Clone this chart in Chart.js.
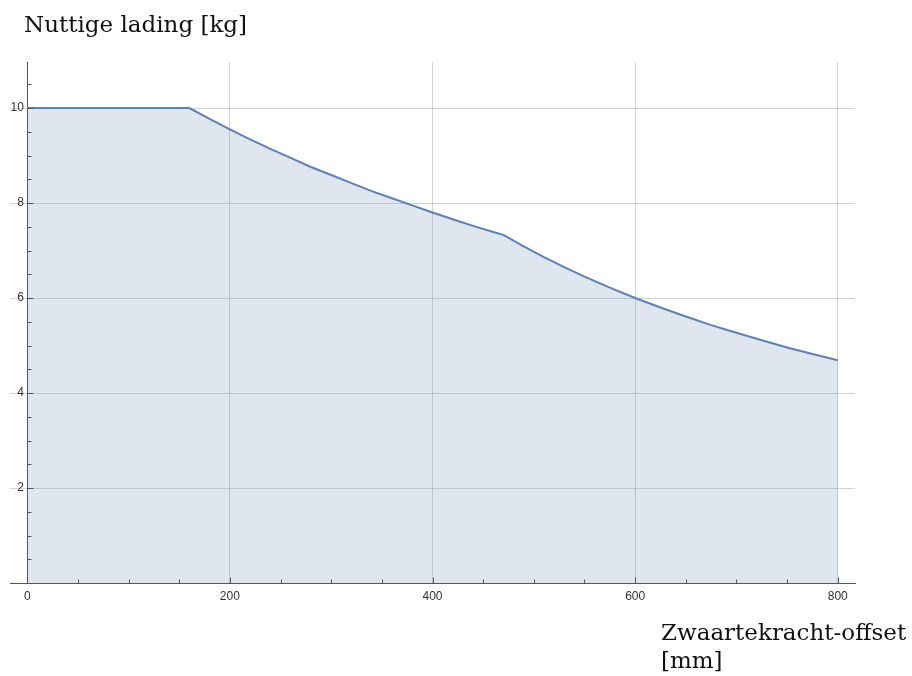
<!DOCTYPE html>
<html>
<head>
<meta charset="utf-8">
<script src="https://cdn.jsdelivr.net/npm/chart.js@4.4.1/dist/chart.umd.min.js"></script>
<style>
  html, body { margin: 0; padding: 0; background: #fff; }
</style>
</head>
<body>
<canvas id="chart" width="912" height="676"></canvas>
<script>
// offset in mm and payload in kg
const offsets = [0, 160, 180, 200, 220, 240, 260, 280, 300, 320, 340, 360, 380, 400, 420, 440, 460, 470,
  490, 510, 530, 550, 575, 600, 625, 650, 675, 700, 725, 750, 775, 800];
const payload = [10, 10, 9.77, 9.55, 9.34, 9.14, 8.95, 8.76, 8.59, 8.42, 8.25, 8.10, 7.95, 7.80, 7.66, 7.52, 7.39, 7.33,
  7.09, 6.86, 6.65, 6.45, 6.22, 6.00, 5.80, 5.61, 5.43, 5.27, 5.11, 4.96, 4.82, 4.69];

const xTicks = [0, 200, 400, 600, 800];
const yTicks = [2, 4, 6, 8, 10];
const yTitle = 'Nuttige lading [kg]';
const xTitle = ['Zwaartekracht-offset', '[mm]'];

const axisColor = '#555';
const gridColor = 'rgba(0,0,0,0.17)';
const tickFont = { family: 'Liberation Sans, Arial, sans-serif', size: 12 };
const titleFont = '23px "DejaVu Serif", serif';

// inner tick marks (Mathematica style) + axis titles
const axisDecor = {
  id: 'axisDecor',
  afterDraw(chart) {
    const { ctx, scales: { x, y } } = chart;
    const x0 = Math.round(x.getPixelForValue(0)) + 0.5;
    const y0 = Math.round(y.getPixelForValue(0)) + 0.5;
    ctx.save();
    ctx.strokeStyle = axisColor;
    ctx.lineWidth = 1;
    ctx.beginPath();
    for (let v = 0; v <= 800; v += 50) {
      const px = Math.round(x.getPixelForValue(v)) + 0.5;
      const len = v % 200 === 0 ? 6 : 4;
      ctx.moveTo(px, y0);
      ctx.lineTo(px, y0 - len);
    }
    for (let v = 0.5; v <= 10.5; v += 0.5) {
      const py = Math.round(y.getPixelForValue(v)) + 0.5;
      const len = v % 2 === 0 ? 6 : 4;
      ctx.moveTo(x0, py);
      ctx.lineTo(x0 + len, py);
    }
    ctx.stroke();

    ctx.fillStyle = '#111';
    ctx.font = titleFont;
    ctx.textAlign = 'left';
    ctx.textBaseline = 'alphabetic';
    ctx.fillText(yTitle, 24, 32);
    ctx.fillText(xTitle[0], 661, 640);
    ctx.fillText(xTitle[1], 661, 668);
    ctx.restore();
  }
};

new Chart(document.getElementById('chart'), {
  type: 'line',
  data: {
    datasets: [{
      data: offsets.map((v, i) => ({ x: v, y: payload[i] })),
      borderColor: '#5e81b5',
      borderWidth: 2,
      backgroundColor: 'rgba(94,129,181,0.2)',
      fill: 'origin',
      pointRadius: 0,
      tension: 0
    }]
  },
  options: {
    responsive: false,
    animation: false,
    devicePixelRatio: 1,
    layout: { padding: { left: 10, right: 57, top: 62, bottom: 63 } },
    plugins: { legend: { display: false }, tooltip: { enabled: false } },
    scales: {
      x: {
        type: 'linear',
        position: 'bottom',
        min: -17,
        max: 817,
        afterBuildTicks: s => { s.ticks = xTicks.map(v => ({ value: v })); },
        afterFit: s => { s.height = 30; },
        grid: { color: gridColor, drawTicks: false },
        border: { color: axisColor, width: 1 },
        ticks: { font: tickFont, color: '#333', padding: 6, maxRotation: 0, autoSkip: false }
      },
      y: {
        type: 'linear',
        position: { x: 0 },
        min: 0,
        max: 10.97,
        afterBuildTicks: s => { s.ticks = yTicks.map(v => ({ value: v })); },
        afterFit: s => { s.width = 0; },
        grid: { color: gridColor, drawTicks: false },
        border: { color: axisColor, width: 1 },
        ticks: { font: tickFont, color: '#333', autoSkip: false, callback: v => v + ' ' }
      }
    }
  },
  plugins: [axisDecor]
});
</script>
</body>
</html>
